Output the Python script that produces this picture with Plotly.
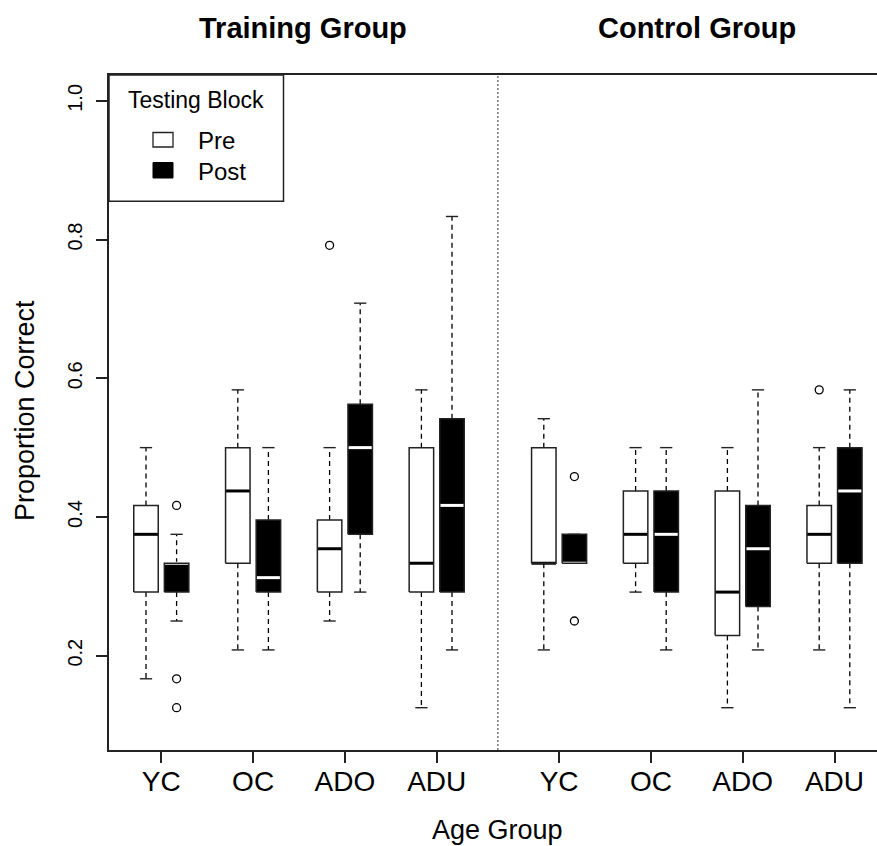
import plotly.graph_objects as go

# ---------------- data (proportion correct) ----------------
age_groups = ["YC", "OC", "ADO", "ADU"]
group_titles = ["Training Group", "Control Group"]
y_tick_vals = [0.2, 0.4, 0.6, 0.8, 1.0]
y_tick_text = ["0.2", "0.4", "0.6", "0.8", "1.0"]

train_pre_low = [0.1667, 0.2083, 0.2500, 0.1250]
train_pre_q1 = [0.2917, 0.3333, 0.2917, 0.2917]
train_pre_med = [0.3750, 0.4375, 0.3542, 0.3333]
train_pre_q3 = [0.4167, 0.5000, 0.3958, 0.5000]
train_pre_high = [0.5000, 0.5833, 0.5000, 0.5833]
train_pre_out = [[], [], [0.7917], []]

train_post_low = [0.2500, 0.2083, 0.2917, 0.2083]
train_post_q1 = [0.2917, 0.2917, 0.3750, 0.2917]
train_post_med = [0.3333, 0.3125, 0.5000, 0.4167]
train_post_q3 = [0.3333, 0.3958, 0.5625, 0.5417]
train_post_high = [0.3750, 0.5000, 0.7083, 0.8333]
train_post_out = [[0.4167, 0.1667, 0.1250], [], [], []]

ctrl_pre_low = [0.2083, 0.2917, 0.1250, 0.2083]
ctrl_pre_q1 = [0.3333, 0.3333, 0.2292, 0.3333]
ctrl_pre_med = [0.3333, 0.3750, 0.2917, 0.3750]
ctrl_pre_q3 = [0.5000, 0.4375, 0.4375, 0.4167]
ctrl_pre_high = [0.5417, 0.5000, 0.5000, 0.5000]
ctrl_pre_out = [[], [], [], [0.5833]]

ctrl_post_low = [0.3333, 0.2083, 0.2083, 0.1250]
ctrl_post_q1 = [0.3333, 0.2917, 0.2708, 0.3333]
ctrl_post_med = [0.3333, 0.3750, 0.3542, 0.4375]
ctrl_post_q3 = [0.3750, 0.4375, 0.4167, 0.5000]
ctrl_post_high = [0.3750, 0.5000, 0.5833, 0.5833]
ctrl_post_out = [[0.4583, 0.2500], [], [], []]

# ---------------- layout constants ----------------
FONT = "Liberation Sans, Arial, Helvetica, sans-serif"
W, H = 877, 846
ML, MT, MB = 109, 75, 96
PW, PH = W - ML, H - MT - MB
LINE = "#222"

BOX_HALF = 0.4
CAP_HALF = 0.2


def px_x(px):
    return (px - ML) / PW


def px_y(py):
    return (H - MB - py) / PH


series = []  # (positions, low, q1, med, q3, high, outliers, filled)
train_base = [1 + 3 * i for i in range(4)]
ctrl_base = [14 + 3 * i for i in range(4)]
series.append((train_base, train_pre_low, train_pre_q1, train_pre_med, train_pre_q3, train_pre_high, train_pre_out, False))
series.append(([b + 1 for b in train_base], train_post_low, train_post_q1, train_post_med, train_post_q3, train_post_high, train_post_out, True))
series.append((ctrl_base, ctrl_pre_low, ctrl_pre_q1, ctrl_pre_med, ctrl_pre_q3, ctrl_pre_high, ctrl_pre_out, False))
series.append(([b + 1 for b in ctrl_base], ctrl_post_low, ctrl_post_q1, ctrl_post_med, ctrl_post_q3, ctrl_post_high, ctrl_post_out, True))

fill_x = {False: [], True: []}
fill_y = {False: [], True: []}
med_x = {False: [], True: []}
med_y = {False: [], True: []}
wx, wy, cx, cy, ox, oy = [], [], [], [], [], []
for pos, low, q1, med, q3, high, outs, filled in series:
    for p, lo, a, m, b, hi, ol in zip(pos, low, q1, med, q3, high, outs):
        fill_x[filled] += [p - BOX_HALF, p + BOX_HALF, p + BOX_HALF, p - BOX_HALF, p - BOX_HALF, None]
        fill_y[filled] += [a, a, b, b, a, None]
        med_x[filled] += [p - BOX_HALF, p + BOX_HALF, None]
        med_y[filled] += [m, m, None]
        if hi > b:
            wx += [p, p, None]
            wy += [b, hi, None]
        if lo < a:
            wx += [p, p, None]
            wy += [a, lo, None]
        cx += [p - CAP_HALF, p + CAP_HALF, None, p - CAP_HALF, p + CAP_HALF, None]
        cy += [hi, hi, None, lo, lo, None]
        for o in ol:
            ox.append(p)
            oy.append(o)

fig = go.Figure()
# whiskers (dashed)
fig.add_trace(go.Scatter(x=wx, y=wy, mode="lines", line=dict(color="black", width=1.3, dash="5px,4px"),
                         hoverinfo="skip", showlegend=False))
# staples
fig.add_trace(go.Scatter(x=cx, y=cy, mode="lines", line=dict(color=LINE, width=1.4),
                         hoverinfo="skip", showlegend=False))
# box fills
for filled, col in [(False, "white"), (True, "black")]:
    fig.add_trace(go.Scatter(x=fill_x[filled], y=fill_y[filled], mode="lines", fill="toself",
                             fillcolor=col, line=dict(width=0, color=col), hoverinfo="skip", showlegend=False))
# medians
for filled, col in [(False, "black"), (True, "white")]:
    fig.add_trace(go.Scatter(x=med_x[filled], y=med_y[filled], mode="lines", line=dict(color=col, width=3),
                             hoverinfo="skip", showlegend=False))
# box outlines
for filled in (False, True):
    fig.add_trace(go.Scatter(x=fill_x[filled], y=fill_y[filled], mode="lines",
                             line=dict(color=LINE, width=1.5), hoverinfo="skip", showlegend=False))
# outliers
fig.add_trace(go.Scatter(x=ox, y=oy, mode="markers",
                         marker=dict(symbol="circle-open", size=8, color="black", line=dict(width=1.3)),
                         hoverinfo="skip", showlegend=False))

tick_vals = [b + 0.5 for b in train_base + ctrl_base]
tick_text = age_groups + age_groups

fig.update_layout(
    width=W, height=H,
    margin=dict(l=ML, r=0, t=MT, b=MB, pad=0),
    paper_bgcolor="white", plot_bgcolor="white",
    font=dict(family=FONT, color="black"),
    showlegend=False,
    xaxis=dict(range=[-0.209, 24.889], showgrid=False, zeroline=False, showline=True, mirror=True,
               linecolor=LINE, linewidth=1.5, ticks="outside", ticklen=11, tickwidth=1.5, tickcolor=LINE,
               tickvals=tick_vals, ticktext=tick_text, tickfont=dict(size=28, family=FONT),
               ticklabelstandoff=-5),
    yaxis=dict(range=[0.064, 1.0373], showgrid=False, zeroline=False, showline=True, mirror=False,
               linecolor=LINE, linewidth=1.5, ticks="outside", ticklen=11, tickwidth=1.5, tickcolor=LINE,
               tickvals=y_tick_vals, ticktext=y_tick_text, tickangle=-90, tickfont=dict(size=20, family=FONT),
               ticklabelstandoff=6),
)

shapes = [
    # dotted separator between groups
    dict(type="line", xref="x", yref="paper", x0=12.5, x1=12.5, y0=0, y1=1,
         line=dict(color="#333", width=1, dash="2px,2px")),
    # legend box
    dict(type="rect", xref="paper", yref="paper", x0=px_x(109), x1=px_x(283.5), y0=px_y(201.3), y1=px_y(75),
         line=dict(color=LINE, width=1.5), fillcolor="white"),
    dict(type="rect", xref="paper", yref="paper", x0=px_x(153), x1=px_x(173), y0=px_y(147), y1=px_y(132.5),
         line=dict(color=LINE, width=1.3), fillcolor="white"),
    dict(type="rect", xref="paper", yref="paper", x0=px_x(153), x1=px_x(173), y0=px_y(178), y1=px_y(162.5),
         line=dict(color="black", width=1), fillcolor="black"),
]
fig.update_layout(shapes=shapes)

ann = []
ann.append(dict(text="<b>" + group_titles[0] + "</b>", x=px_x(303.3), y=px_y(28), xref="paper", yref="paper",
                showarrow=False, xanchor="center", yanchor="middle", font=dict(size=29, family=FONT)))
ann.append(dict(text="<b>" + group_titles[1] + "</b>", x=px_x(697), y=px_y(28), xref="paper", yref="paper",
                showarrow=False, xanchor="center", yanchor="middle", font=dict(size=29, family=FONT)))
ann.append(dict(text="Age Group", x=px_x(497.5), y=px_y(830), xref="paper", yref="paper",
                showarrow=False, xanchor="center", yanchor="middle", font=dict(size=27, family=FONT)))
ann.append(dict(text="Proportion Correct", x=px_x(25), y=px_y(411), xref="paper", yref="paper",
                showarrow=False, xanchor="center", yanchor="middle", textangle=-90, font=dict(size=27, family=FONT)))
ann.append(dict(text="Testing Block", x=px_x(195.5), y=px_y(100), xref="paper", yref="paper",
                showarrow=False, xanchor="center", yanchor="middle", font=dict(size=23, family=FONT)))
ann.append(dict(text="Pre", x=px_x(196), y=px_y(140), xref="paper", yref="paper",
                showarrow=False, xanchor="left", yanchor="middle", font=dict(size=24, family=FONT)))
ann.append(dict(text="Post", x=px_x(196), y=px_y(171.5), xref="paper", yref="paper",
                showarrow=False, xanchor="left", yanchor="middle", font=dict(size=24, family=FONT)))
fig.update_layout(annotations=ann)

fig.write_html("out.html", config={"displayModeBar": False},
               post_script="document.body.style.margin='0';document.body.style.overflow='hidden';")
